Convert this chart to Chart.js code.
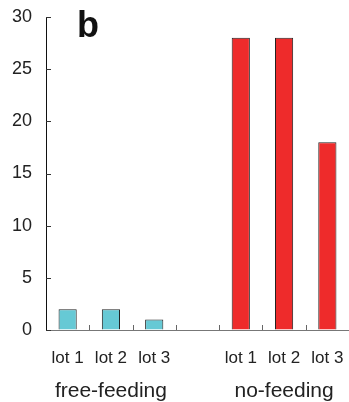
<!DOCTYPE html>
<html>
<head>
<meta charset="utf-8">
<script src="https://cdn.jsdelivr.net/npm/chart.js@4/dist/chart.umd.min.js"></script>
<style>
html,body{margin:0;padding:0;background:#fff;}
#wrap{width:349px;height:402px;position:relative;}
</style>
</head>
<body>
<div id="wrap"><canvas id="c"></canvas></div>
<script>
const lotLabels = ['lot 1', 'lot 2', 'lot 3', '', 'lot 1', 'lot 2', 'lot 3'];
const groupLabels = ['', 'free-feeding', '', '', '', 'no-feeding', ''];
const freeFeeding = [2, 2, 1];
const noFeeding = [28, 28, 18];
const yTicks = [0, 5, 10, 15, 20, 25, 30];
const panelLetter = 'b';

const values = [...freeFeeding, null, ...noFeeding];
const colors = [
  ...freeFeeding.map(() => '#66c9d5'),
  'rgba(0,0,0,0)',
  ...noFeeding.map(() => '#ee2b2b')
];

const FONT = '"Liberation Sans", Arial, sans-serif';

const decor = {
  id: 'decor',
  afterDraw(chart) {
    const ctx = chart.ctx;
    const x = chart.scales.x;
    const y = chart.scales.y;
    const area = chart.chartArea;
    ctx.save();
    ctx.strokeStyle = '#333';
    ctx.lineWidth = 1;
    yTicks.forEach(v => {
      const py = Math.round(y.getPixelForValue(v)) + 0.5;
      ctx.beginPath();
      ctx.moveTo(area.left, py);
      ctx.lineTo(area.left + 5, py);
      ctx.stroke();
    });
    ctx.strokeStyle = '#666';
    for (let i = 1; i < lotLabels.length; i++) {
      const px = Math.round((x.getPixelForTick(i - 1) + x.getPixelForTick(i)) / 2) + 0.5;
      ctx.beginPath();
      ctx.moveTo(px, area.bottom);
      ctx.lineTo(px, area.bottom - 5);
      ctx.stroke();
    }
    ctx.fillStyle = '#111';
    ctx.font = 'bold 36px ' + FONT;
    ctx.textAlign = 'left';
    ctx.textBaseline = 'alphabetic';
    ctx.fillText(panelLetter, 77, 37);
    ctx.restore();
  }
};

new Chart(document.getElementById('c'), {
  type: 'bar',
  data: {
    labels: lotLabels,
    datasets: [{
      data: values,
      backgroundColor: colors,
      borderColor: '#222',
      borderWidth: 1,
      barPercentage: 0.42,
      categoryPercentage: 1.0,
      xAxisID: 'x'
    }]
  },
  options: {
    responsive: true,
    maintainAspectRatio: false,
    animation: false,
    layout: { padding: { top: 17, right: -4, left: 0, bottom: 0 } },
    plugins: { legend: { display: false }, tooltip: { enabled: false } },
    scales: {
      x: {
        type: 'category',
        position: 'bottom',
        grid: { display: true, drawOnChartArea: false, drawTicks: true, tickLength: 16, color: 'rgba(0,0,0,0)' },
        border: { display: true, color: '#777', width: 1 },
        ticks: { color: '#222', font: { family: FONT, size: 17 }, padding: 2, maxRotation: 0, autoSkip: false },
        afterFit(s) { s.height = 38; }
      },
      x2: {
        type: 'category',
        position: 'bottom',
        labels: groupLabels,
        offset: true,
        grid: { display: true, drawOnChartArea: false, drawTicks: true, tickLength: 9, color: 'rgba(0,0,0,0)' },
        border: { display: false },
        ticks: { color: '#222', font: { family: FONT, size: 21 }, padding: 2, maxRotation: 0, autoSkip: false },
        afterFit(s) { s.height = 34; }
      },
      y: {
        min: 0,
        max: 30,
        grid: { display: true, drawOnChartArea: false, drawTicks: true, tickLength: 12, color: 'rgba(0,0,0,0)' },
        border: { display: true, color: '#111', width: 1 },
        afterBuildTicks(s) { s.ticks = yTicks.map(v => ({ value: v })); },
        ticks: { color: '#222', font: { family: FONT, size: 18 }, padding: 2 },
        afterFit(s) { s.width = 46; }
      }
    }
  },
  plugins: [decor]
});
</script>
</body>
</html>
